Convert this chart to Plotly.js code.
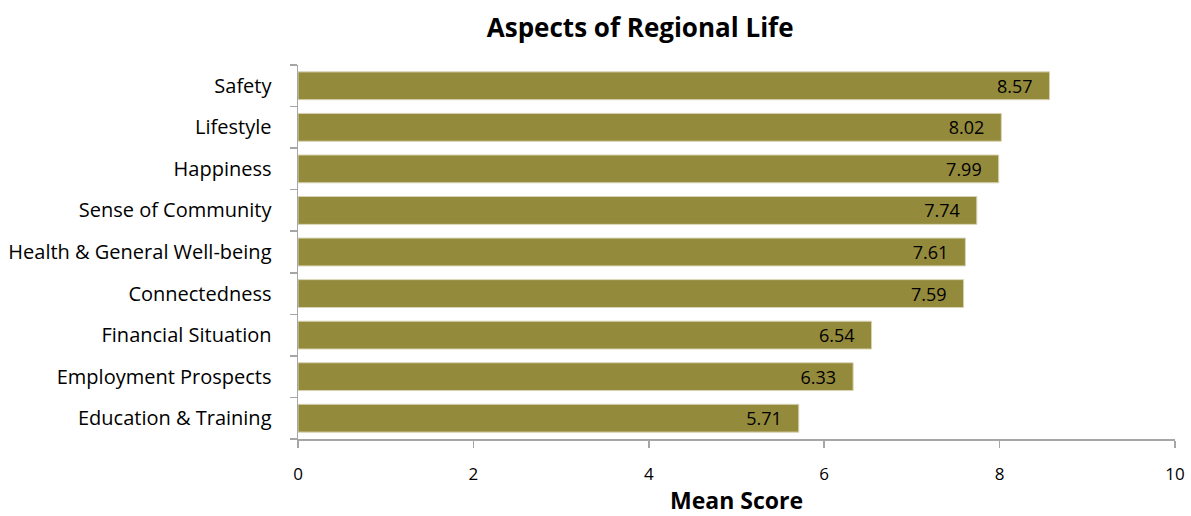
<!DOCTYPE html>
<html><head><meta charset="utf-8">
<script src="https://cdn.plot.ly/plotly-3.0.1.min.js"></script>
<style>html,body{margin:0;padding:0;background:#fff;}#chart{width:1191px;height:516px;}</style>
</head><body><div id="chart"></div>
<script>
const categories = ["Education & Training","Employment Prospects","Financial Situation","Connectedness","Health & General Well-being","Sense of Community","Happiness","Lifestyle","Safety"];
const meanScores = [5.71, 6.33, 6.54, 7.59, 7.61, 7.74, 7.99, 8.02, 8.57];
const xTicks = [0, 2, 4, 6, 8, 10];

const font = "'Open Sans', sans-serif";
const trace = {
  type: "bar", orientation: "h",
  y: categories, x: meanScores,
  text: meanScores.map(v => v.toFixed(2) + "\u00A0\u00A0\u00A0"),
  textposition: "inside", insidetextanchor: "end", constraintext: "none",
  textfont: {family: font, size: 18, color: "#000"},
  marker: {color: "#948A3C", line: {color: "#D8D4B4", width: 1}},
  width: 0.67, cliponaxis: false, hoverinfo: "skip"
};
const layout = {
  width: 1191, height: 516,
  margin: {l: 298, r: 16, t: 65, b: 77},
  paper_bgcolor: "#fff", plot_bgcolor: "#fff",
  showlegend: false,
  title: {text: "<b>Aspects of Regional Life</b>", x: 0.5375, xanchor: "center", y: 0.945, yanchor: "middle", font: {family: font, size: 26, color: "#000"}},
  xaxis: {
    range: [0, 10], tickvals: xTicks, ticktext: xTicks.map(String),
    showgrid: false, zeroline: false, showline: true, linecolor: "#A6A6A6", linewidth: 1.5,
    ticks: "outside", ticklen: 7, tickcolor: "#A6A6A6", tickwidth: 1.5,
    tickfont: {family: font, size: 17, color: "#000"}, ticklabelstandoff: 12,
    title: {text: "<b>Mean Score</b>", font: {family: font, size: 23, color: "#000"}, standoff: 20}
  },
  yaxis: {
    type: "category", categoryorder: "array", categoryarray: categories,
    showgrid: false, zeroline: false, showline: true, linecolor: "#A6A6A6", linewidth: 1.5,
    ticks: "outside", tickson: "boundaries", ticklen: 7, tickcolor: "#A6A6A6", tickwidth: 1.5,
    tickfont: {family: font, size: 20, color: "#000"}, ticklabelstandoff: 21
  }
};
Plotly.newPlot("chart", [trace], layout, {displayModeBar: false, staticPlot: true});
</script></body></html>
